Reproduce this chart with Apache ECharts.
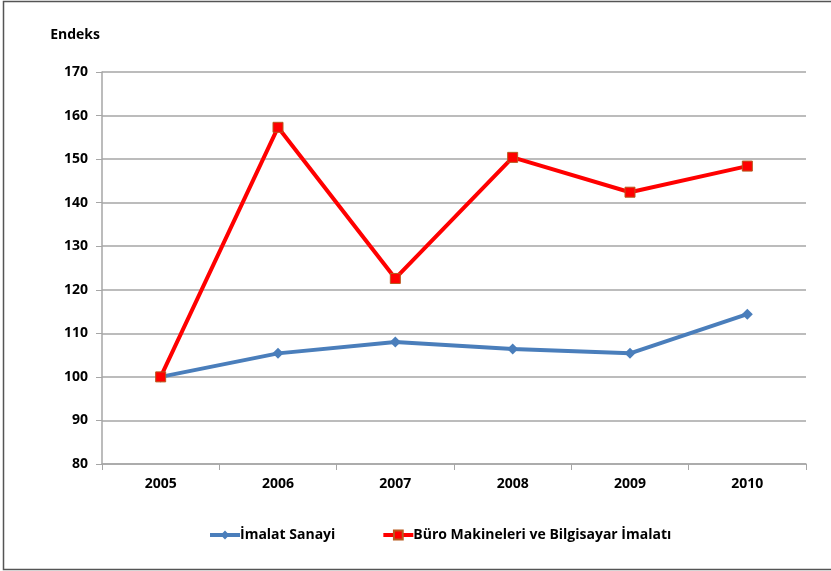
<!DOCTYPE html>
<html>
<head>
<meta charset="utf-8">
<script src="https://cdn.jsdelivr.net/npm/echarts@6/dist/echarts.min.js"></script>
<style>
  html, body { margin: 0; padding: 0; background: #fff; }
  #chart { width: 831px; height: 571px; }
</style>
</head>
<body>
<div id="chart"></div>
<script>
var years = ['2005', '2006', '2007', '2008', '2009', '2010'];
var imalatSanayi = [100, 105.4, 108, 106.4, 105.4, 114.4];
var buroMakineleri = [100, 157.3, 122.6, 150.4, 142.4, 148.4];
var yTicks = { min: 80, max: 170, step: 10 };

var chartFont = 'Open Sans';

var myChart = echarts.init(document.getElementById('chart'));
var option = {
    animation: false,
    backgroundColor: '#fff',
    textStyle: { fontFamily: chartFont },
    graphic: [{
        type: 'rect',
        shape: { x: 3.5, y: 1.5, width: 840, height: 568 },
        style: { fill: 'none', stroke: '#555', lineWidth: 1.5 }
    }],
    grid: { left: 102, right: 25, top: 72, bottom: 107, containLabel: false },
    legend: {
        bottom: 24,
        left: 203,
        itemGap: 46,
        itemWidth: 30,
        itemHeight: 11,
        lineStyle: { width: 4 },
        textStyle: { fontFamily: chartFont, fontWeight: 'bold', fontSize: 14, color: '#000', padding: [0, 0, 0, -5] },
        data: ['İmalat Sanayi', 'Büro Makineleri ve Bilgisayar İmalatı']
    },
    xAxis: {
        type: 'category',
        data: years,
        boundaryGap: true,
        axisLine: { lineStyle: { color: '#a6a6a6', width: 1.5 } },
        axisTick: { show: true, length: 6, lineStyle: { color: '#a6a6a6' } },
        axisLabel: { color: '#000', fontWeight: 'bold', fontSize: 14, margin: 13 }
    },
    yAxis: {
        type: 'value',
        min: yTicks.min,
        max: yTicks.max,
        interval: yTicks.step,
        name: 'Endeks',
        nameLocation: 'end',
        nameGap: 30,
        nameTextStyle: { color: '#000', fontWeight: 'bold', fontSize: 14, align: 'right', padding: [0, 2, 0, 0] },
        axisLine: { show: true, lineStyle: { color: '#a6a6a6', width: 1.5 } },
        axisTick: { show: true, inside: false, length: 6, lineStyle: { color: '#a6a6a6' } },
        axisLabel: { color: '#000', fontWeight: 'bold', fontSize: 14, margin: 14 },
        splitLine: { lineStyle: { color: '#a6a6a6', width: 1.5 } }
    },
    series: [
        {
            name: 'İmalat Sanayi',
            type: 'line',
            data: imalatSanayi,
            symbol: 'diamond',
            symbolSize: 11,
            lineStyle: { color: '#4a7ebb', width: 4 },
            itemStyle: { color: '#4a7ebb' },
            z: 2
        },
        {
            name: 'Büro Makineleri ve Bilgisayar İmalatı',
            type: 'line',
            data: buroMakineleri,
            symbol: 'rect',
            symbolSize: 10,
            lineStyle: { color: '#ff0000', width: 4 },
            itemStyle: { color: '#ff0000', borderColor: '#b85a1e', borderWidth: 1 },
            z: 3
        }
    ]
};
myChart.setOption(option);
</script>
</body>
</html>
